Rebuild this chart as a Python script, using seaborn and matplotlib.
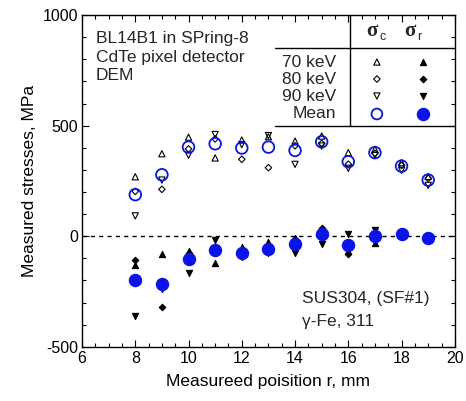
import numpy as np
import pandas as pd
import matplotlib
matplotlib.use("Agg")
import matplotlib.pyplot as plt
import seaborn as sns
from matplotlib.ticker import MultipleLocator

# ---------------- data ----------------
r = [8, 9, 10, 11, 12, 13, 14, 15, 16, 17, 18, 19]

# hoop stress sigma_c, MPa
sc_70 = [269, 373, 448, 354, 435, 450, 430, 453, 378, 393, 333, 270]
sc_80 = [203, 212, 395, 440, 348, 310, 409, 420, 326, 375, 320, 262]
sc_90 = [92, 254, 366, 460, 414, 455, 325, 408, 307, 366, 298, 230]
sc_mean = [188, 278, 403, 418, 399, 403, 388, 427, 337, 378, 317, 254]

# radial stress sigma_r, MPa
sr_70 = [-129, -81, -68, -119, -47, -26, -10, 27, -66, -29, 12, -4]
sr_80 = [-107, -322, -77, -53, -85, -65, -12, 36, -78, -2, 8, -6]
sr_90 = [-360, -239, -167, -17, -93, -77, -77, -37, 10, 28, 10, -8]
sr_mean = [-200, -214, -104, -63, -75, -56, -33, 8, -41, -1, 10, -6]

BLUE = "#0a14e6"

sns.set_theme(style="ticks")
plt.rcParams["font.family"] = ["Liberation Sans", "DejaVu Sans"]
plt.rcParams["axes.unicode_minus"] = False

fig = plt.figure(figsize=(4.66, 4.01), dpi=100)
ax = fig.add_axes([0.176, 0.135, 0.8, 0.8275])

ax.axhline(0, color="black", lw=1, ls=(0, (3, 3)), zorder=1)

small = dict(s=20, linewidth=0.8, zorder=3)
# open symbols: sigma_c
sns.scatterplot(x=r, y=sc_70, marker="^", facecolors="none", edgecolors="black", ax=ax, **small)
sns.scatterplot(x=r, y=sc_80, marker="D", facecolors="none", edgecolors="black", ax=ax,
                s=11, linewidth=0.8, zorder=3)
sns.scatterplot(x=r, y=sc_90, marker="v", facecolors="none", edgecolors="black", ax=ax, **small)
sns.scatterplot(x=r, y=sc_mean, marker="o", facecolors="none", edgecolors=BLUE, ax=ax,
                s=70, linewidth=1.3, zorder=4)
# filled symbols: sigma_r
sns.scatterplot(x=r, y=sr_70, marker="^", color="black", edgecolor="black", ax=ax, **small)
sns.scatterplot(x=r, y=sr_80, marker="D", color="black", edgecolor="black", ax=ax,
                s=11, linewidth=0.8, zorder=3)
sns.scatterplot(x=r, y=sr_90, marker="v", color="black", edgecolor="black", ax=ax, **small)
sns.scatterplot(x=r, y=sr_mean, marker="o", color=BLUE, edgecolor=BLUE, ax=ax,
                s=75, linewidth=1.0, zorder=4)

ax.set_xlim(6, 20)
ax.set_ylim(-500, 1000)
ax.xaxis.set_major_locator(MultipleLocator(2))
ax.xaxis.set_minor_locator(MultipleLocator(0.5))
ax.yaxis.set_major_locator(MultipleLocator(500))
ax.yaxis.set_minor_locator(MultipleLocator(100))
ax.tick_params(which="both", direction="in", top=True, right=True,
               color="black", width=0.8, labelsize=11.5, labelcolor="black")
ax.tick_params(which="major", length=5, pad=3)
ax.tick_params(which="minor", length=3)
for sp in ax.spines.values():
    sp.set_color("black")
    sp.set_linewidth(1.0)

ax.set_xlabel("Measureed poisition r, mm", fontsize=12.5, color="black", labelpad=6)
ax.set_ylabel("Measured stresses, MPa", fontsize=12.5, color="black", labelpad=4)

# text annotations
ax.text(0.0375, 0.952, "BL14B1 in SPring-8\nCdTe pixel detector\nDEM",
        transform=ax.transAxes, fontsize=12.5, va="top", ha="left", linespacing=1.3)
ax.text(0.59, 0.145, "SUS304, (SF#1)", transform=ax.transAxes,
        fontsize=12.5, va="center", ha="left")
ax.text(0.59, 0.075, "\u03b3-Fe, 311", transform=ax.transAxes,
        fontsize=12.5, va="center", ha="left")

# legend drawn as a small table
tr = ax.transAxes
ax.plot([0.7185, 0.7185], [0.666, 1.0], color="black", lw=1, transform=tr, clip_on=False)
ax.plot([0.5174, 1.0], [0.9006, 0.9006], color="black", lw=1, transform=tr)
ax.plot([0.5174, 1.0], [0.666, 0.666], color="black", lw=1, transform=tr)
ax.text(0.7775, 0.952, "\u03c3", transform=tr, fontsize=15, ha="center", va="center",
        family="Liberation Serif", fontweight="bold")
ax.text(0.797, 0.933, "c", transform=tr, fontsize=9, ha="left", va="center")
ax.text(0.879, 0.952, "\u03c3", transform=tr, fontsize=15, ha="center", va="center",
        family="Liberation Serif", fontweight="bold")
ax.text(0.898, 0.933, "r", transform=tr, fontsize=9, ha="left", va="center")

rows = ["70 keV", "80 keV", "90 keV", "Mean"]
row_y = [0.8584, 0.8072, 0.756, 0.7018]
open_m = [("^", 20, "black", 0.8), ("D", 11, "black", 0.8), ("v", 20, "black", 0.8), ("o", 60, BLUE, 1.3)]
for lab, yy, (m, s, c, lw) in zip(rows, row_y, open_m):
    ax.text(0.681, yy, lab, transform=tr, fontsize=12.5, ha="right", va="center")
    ax.scatter([0.791], [yy], marker=m, s=s, facecolors="none", edgecolors=c,
               linewidths=lw, transform=tr, zorder=5)
    ax.scatter([0.914], [yy], marker=m, s=s + (10 if m == "o" else 0), color=c,
               edgecolors=c, linewidths=lw, transform=tr, zorder=5)

fig.savefig("out.png", dpi=100)
